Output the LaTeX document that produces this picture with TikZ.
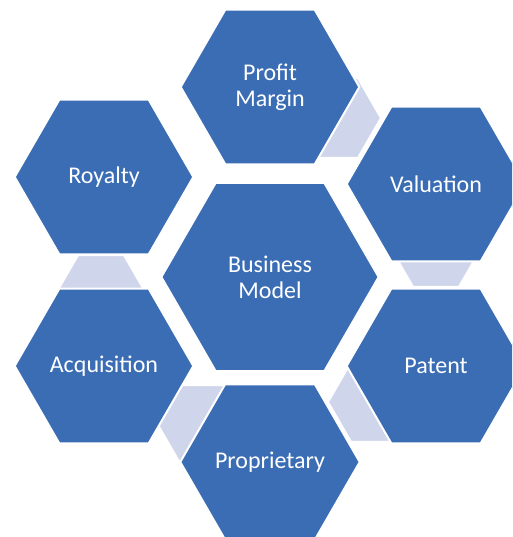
\documentclass[tikz,border=0pt]{standalone}
\usepackage{fontspec}
\setmainfont{Carlito}
\usetikzlibrary{shapes.geometric}
\definecolor{hexblue}{RGB}{59,109,181}
\definecolor{linkblue}{RGB}{207,213,234}

\begin{document}
\begin{tikzpicture}[
  x=0.75pt, y=-0.75pt,
  hex/.style={regular polygon, regular polygon sides=6, draw=white, line width=1.5pt, fill=hexblue, text=white, inner sep=0pt, outer sep=0pt, align=center, font=\fontsize{18}{19.5}\selectfont},
  petal/.style={hex, minimum size=134pt},
  hub/.style={hex, minimum size=163pt},
  link/.style={regular polygon, regular polygon sides=6, draw=white, line width=1.5pt, fill=linkblue, minimum size=69pt, inner sep=0pt, outer sep=0pt},
]
\clip (0,0) rectangle (512,537);

% Links (mostly hidden behind the petals)
\node[link] (pv) at (335,118) {};
\node[link] (vp) at (436,247) {};
\node[link] (pp) at (374,402) {};
\node[link] (pa) at (204,425) {};
\node[link] (ar) at (101,295) {};

% Petals
\node[petal] (profit) at (270,87) {Profit\\Margin};
\node[petal] (valuation) at (436,184) {Valuation};
\node[petal] (patent) at (436,366) {Patent};
\node[petal] (proprietary) at (270,462) {Proprietary};
\node[petal] (acquisition) at (104,366) {Acquisition};
\node[petal] (royalty) at (104,177) {Royalty};

% Hub
\node[hub] (model) at (270,277) {Business\\Model};

\end{tikzpicture}
\end{document}
